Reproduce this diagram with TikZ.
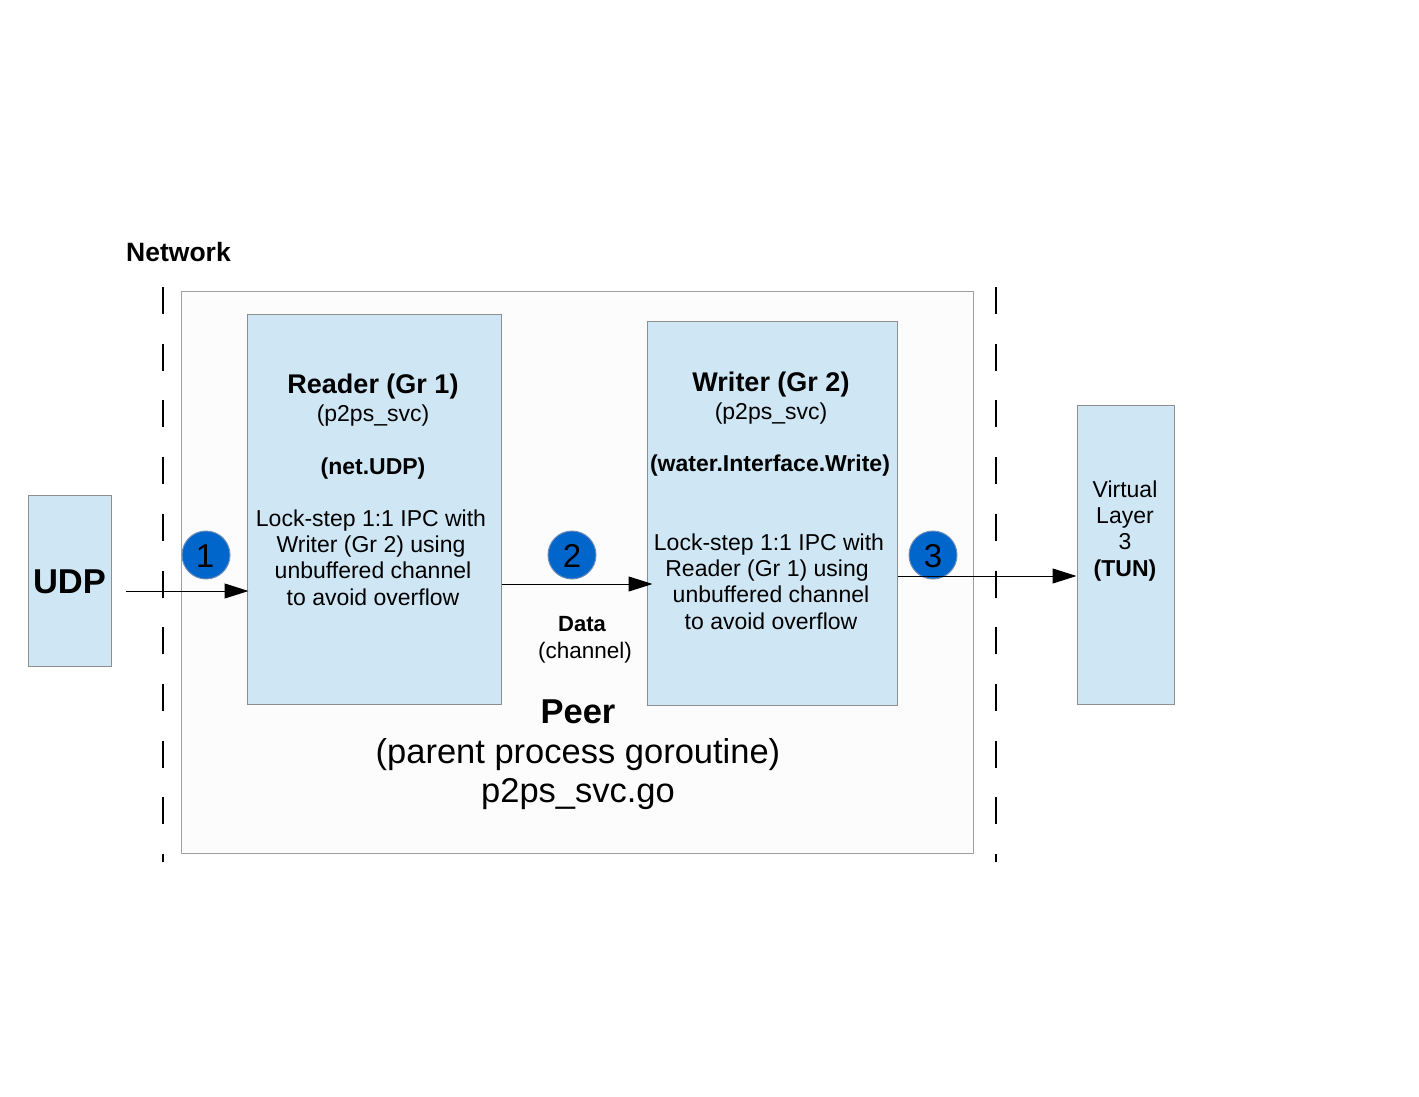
\documentclass[tikz,border=0pt]{standalone}
\usepackage{fontspec}
\setmainfont{Liberation Sans}
\usetikzlibrary{arrows.meta}
\definecolor{boxblue}{HTML}{CFE6F4}
\definecolor{boxedge}{HTML}{8E8E8E}
\definecolor{peeredge}{HTML}{A0A0A0}
\definecolor{peerfill}{HTML}{FCFCFC}
\definecolor{circblue}{HTML}{0066CC}
\definecolor{circedge}{HTML}{6F8FB8}
\begin{document}
\begin{tikzpicture}[x=1pt,y=-1pt,
  box/.style={draw=boxedge, fill=boxblue, line width=1pt, inner sep=0pt},
  peerbox/.style={draw=peeredge, fill=peerfill, line width=1pt, inner sep=0pt},
  txt/.style={anchor=base, inner sep=0pt, font=\fontsize{23}{26}\selectfont},
  btxt/.style={anchor=base, inner sep=0pt, font=\fontsize{23}{26}\selectfont\bfseries},
  ttl/.style={anchor=base, inner sep=0pt, font=\fontsize{27}{30}\selectfont\bfseries},
  big/.style={anchor=base, inner sep=0pt, font=\fontsize{34.5}{40}\selectfont},
  bigb/.style={anchor=base, inner sep=0pt, font=\fontsize{34.5}{40}\selectfont\bfseries},
  num/.style={circle, fill=circblue, draw=circedge, line width=1pt, minimum size=48pt, inner sep=0pt},
  numtxt/.style={anchor=base, inner sep=0pt, font=\fontsize{33}{36}\selectfont},
  netline/.style={line width=2.6pt, dash pattern=on 27pt off 29.7pt},
  arr/.style={line width=1pt, -{Triangle[length=24pt,width=15pt]}}
]
\useasboundingbox[fill=white] (0,0) rectangle (1419,1097);

% Peer container
\node[peerbox, minimum width=792pt, minimum height=562pt] (peer) at (577,572) {};

% Network boundaries
\coordinate (nl1) at (163,287);
\coordinate (nl2) at (163,862);
\coordinate (nr1) at (996,287);
\coordinate (nr2) at (996,862);
\draw[netline] (nl1) -- (nl2);
\draw[netline] (nr1) -- (nr2);
\node[anchor=base west, inner sep=0pt, font=\fontsize{26.5}{30}\selectfont\bfseries] (network) at (126,261) {Network};

% Boxes
\node[box, minimum width=254pt, minimum height=390pt] (reader) at (374,509) {};
\node[box, minimum width=250pt, minimum height=384pt] (writer) at (772,513) {};
\node[box, minimum width=83pt, minimum height=171pt] (udp) at (69.5,580.5) {};
\node[box, minimum width=97pt, minimum height=299pt] (tun) at (1125.5,554.5) {};

% Reader text
\node[ttl] (r1) at (373,393) {Reader (Gr 1)};
\node[txt] (r2) at (373,421) {(p2ps\_svc)};
\node[btxt] (r3) at (373,474) {(net.UDP)};
\node[txt] (r4) at (371,526) {Lock-step 1:1 IPC with};
\node[txt] (r5) at (371,552) {Writer (Gr 2) using};
\node[txt] (r6) at (373,578) {unbuffered channel};
\node[txt] (r7) at (373,605) {to avoid overflow};

% Writer text
\node[ttl] (w1) at (771,391) {Writer (Gr 2)};
\node[txt] (w2) at (771,419) {(p2ps\_svc)};
\node[btxt] (w3) at (770,471) {(water.Interface.Write)};
\node[txt] (w4) at (769,550) {Lock-step 1:1 IPC with};
\node[txt] (w5) at (767,576) {Reader (Gr 1) using};
\node[txt] (w6) at (771,602) {unbuffered channel};
\node[txt] (w7) at (771,629) {to avoid overflow};

% UDP and TUN text
\node[bigb] (udpt) at (69.5,593) {UDP};
\node[txt] (t1) at (1125,497) {Virtual};
\node[txt] (t2) at (1125,523) {Layer};
\node[txt] (t3) at (1125,549) {3};
\node[btxt] (t4) at (1125,576) {(TUN)};

% Data channel label
\node[anchor=base, inner sep=0pt, font=\fontsize{22}{26}\selectfont\bfseries] (d1) at (582,631) {Data};
\node[anchor=base, inner sep=0pt, font=\fontsize{22.5}{26}\selectfont] (d2) at (585,658) {(channel)};

% Peer text
\node[bigb] (p1) at (578,723) {Peer};
\node[big] (p2) at (578,763) {(parent process goroutine)};
\node[big] (p3) at (578,802) {p2ps\_svc.go};

% Numbered circles
\node[num] (c1) at (206,555) {};
\node[num] (c2) at (572,555) {};
\node[num] (c3) at (933,555) {};
\node[numtxt] (c1t) at (205,567) {1};
\node[numtxt] (c2t) at (572,567) {2};
\node[numtxt] (c3t) at (933,567) {3};

% Connectors
\coordinate (a1s) at (126,591);
\draw[arr, shorten >=-2pt] (a1s) -- (a1s -| reader.west);
\draw[arr, shorten >=-6pt] (reader.east |- 0,584) -- (writer.west |- 0,584);
\draw[arr] (writer.east |- 0,576) -- (tun.west |- 0,576);
\end{tikzpicture}
\end{document}
